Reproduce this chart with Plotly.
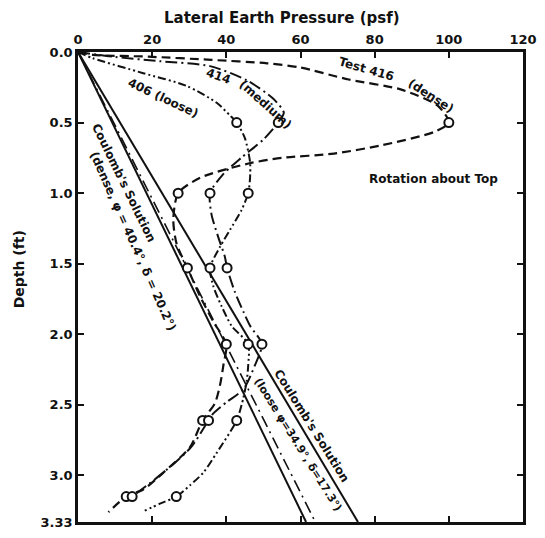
import plotly.graph_objects as go

# ---------------- data ----------------
marker_depth = [0.5, 1.0, 1.53, 2.07, 2.61, 3.15]
dense_marker_x = [100, 27, 29.5, 40, 33.6, 13.0]
medium_marker_x = [54, 35.6, 40.2, 49.6, 35.2, 14.6]
loose_marker_x = [42.8, 45.9, 35.6, 45.9, 42.8, 26.5]

dense_path_depth = [0, 0.02, 0.033, 0.056, 0.08, 0.11, 0.195, 0.265, 0.38, 0.5, 0.567, 0.66, 0.72,
                    0.75, 0.79, 0.89, 1.0, 1.19, 1.36, 1.53, 1.73, 1.91, 2.07, 2.22, 2.36, 2.49,
                    2.61, 2.8, 2.98, 3.1, 3.15, 3.26]
dense_path_x = [0, 4, 19, 36, 51, 60, 73, 87, 97, 100, 96, 82, 69,
                55, 46, 33, 27, 25.7, 26.6, 29.5, 32.9, 36.5, 40, 39.2, 38.3, 36.9,
                33.6, 30.2, 23, 17.6, 13.0, 8.2]

medium_path_depth = [0, 0.035, 0.065, 0.10, 0.20, 0.33, 0.43, 0.5, 0.62, 0.75, 0.87, 1.0, 1.15, 1.31,
                     1.45, 1.53, 1.7, 1.84, 1.94, 2.07, 2.22, 2.39, 2.48, 2.56, 2.61, 2.8, 2.98, 3.15]
medium_path_x = [0, 10, 22, 35.6, 45.5, 52.6, 55.5, 54, 50, 44, 39, 35.6, 36, 37.8,
                 39.6, 40.2, 42.3, 44.6, 46.4, 49.6, 47.7, 44.6, 40.1, 36.5, 35.2, 30.5, 23, 14.6]

loose_path_depth = [0, 0.044, 0.15, 0.24, 0.36, 0.45, 0.5, 0.61, 0.78, 0.89, 1.0, 1.12, 1.26, 1.38,
                    1.53, 1.66, 1.8, 1.94, 2.07, 2.22, 2.33, 2.45, 2.61, 2.84, 2.98, 3.07, 3.15,
                    3.2, 3.25]
loose_path_x = [0, 4, 17.6, 29.3, 37.4, 41, 42.8, 45, 46.4, 46.4, 45.9, 44.1, 41, 38.3,
                35.6, 36.5, 38.7, 41.4, 45.9, 45.9, 45.5, 44.6, 42.8, 37.4, 33.8, 30.2, 26.5,
                22.1, 18]

coulomb_depth = [0, 3.33]
coulomb_dense_x = [0, 61.5]
coulomb_mid_x = [0, 64]
coulomb_loose_x = [0, 75.5]

x_ticks = [0, 20, 40, 60, 80, 100, 120]
y_ticks = [0.0, 0.5, 1.0, 1.5, 2.0, 2.5, 3.0, 3.33]
y_tick_text = ["0.0", "0.5", "1.0", "1.5", "2.0", "2.5", "3.0", "3.33"]

FONT = "DejaVu Sans"
BLACK = "#111111"

fig = go.Figure()

def path(x, y, dash, width=2.0, shape="spline"):
    fig.add_trace(go.Scatter(x=x, y=y, mode="lines", line=dict(color=BLACK, width=width, dash=dash,
                                                                 shape=shape, smoothing=0.7),
                             hoverinfo="skip", showlegend=False))

def marks(x, y):
    fig.add_trace(go.Scatter(x=x, y=y, mode="markers",
                             marker=dict(symbol="circle", size=9, color="white",
                                         line=dict(color=BLACK, width=2)),
                             hoverinfo="skip", showlegend=False))

# Coulomb straight lines
path(coulomb_dense_x, coulomb_depth, "solid", 2.0, "linear")
path(coulomb_mid_x, coulomb_depth, "12px,5px,2px,5px", 1.6, "linear")
path(coulomb_loose_x, coulomb_depth, "solid", 2.0, "linear")

# test curves
path(dense_path_x, dense_path_depth, "9px,5px", 2.2)
path(medium_path_x, medium_path_depth, "12px,4px,2px,4px", 2.0)
path(loose_path_x, loose_path_depth, "8px,3px,2px,3px,2px,3px", 2.0)

marks(dense_marker_x, marker_depth)
marks(medium_marker_x, marker_depth)
marks(loose_marker_x, marker_depth)

# the page body adds an 8 px offset; the figure is sized so that the plot area
# lands at x 78..523, y 52..530 of the 545x538 window
OFF = 8
W, H = 545 - OFF, 538 - OFF
L, R, T, B = 78 - OFF, 22, 52 - OFF, 8
PW, PH = W - L - R, H - T - B

def px(xp, yp):
    return (xp - OFF - L) / PW, 1 - (yp - OFF - T) / PH

def note(text, xp, yp, angle=0, size=12):
    x, y = px(xp, yp)
    fig.add_annotation(x=x, y=y, xref="paper", yref="paper", text=text, showarrow=False,
                       textangle=angle, font=dict(family=FONT, size=size, color=BLACK, weight="bold"),
                       xanchor="center", yanchor="middle")

note("Lateral Earth Pressure (psf)", 282, 17, 0, 15)
note("Depth (ft)", 19, 273, -90, 14)
note("Test 416", 366, 69, 16, 12)
note("(dense)", 431, 97, 33, 12)
note("414", 218, 76, 20, 12)
note("(medium)", 265, 105, 42, 12)
note("406 (loose)", 163, 99, 25, 12)
note("Coulomb's Solution", 124, 185, 64, 12)
note("(dense, φ = 40.4°, δ = 20.2°)", 133, 244, 66, 12)
note("Coulomb's Solution", 312, 432, 58, 12)
note("(loose φ=34.9°, δ=17.3°)", 298, 451, 58, 11)
note("Rotation about Top", 433, 181, 0, 12)

axis_common = dict(showline=True, linecolor=BLACK, linewidth=2.5, mirror="ticks", ticks="inside",
                   ticklen=6, tickwidth=2, tickcolor=BLACK, showgrid=False, zeroline=False,
                   tickfont=dict(family=FONT, size=13, color=BLACK, weight="bold"))

fig.update_layout(
    width=W, height=H, margin=dict(l=L, r=R, t=T, b=B),
    paper_bgcolor="white", plot_bgcolor="white",
    xaxis=dict(range=[0, 120], side="top", tickvals=x_ticks, **axis_common),
    yaxis=dict(range=[3.33, 0], tickvals=y_ticks, ticktext=y_tick_text, **axis_common),
)

fig.write_html("out.html")
